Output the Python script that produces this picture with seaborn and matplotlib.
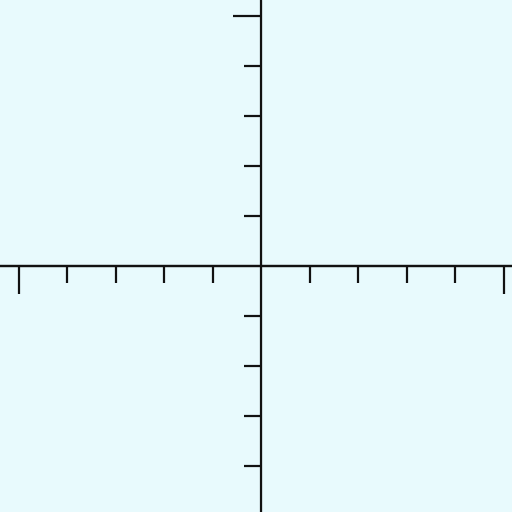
import matplotlib
matplotlib.use("Agg")
import matplotlib.pyplot as plt
import seaborn as sns

# Axis extents and tick positions (data units)
x_limits = [-5.39, 5.17]
y_limits = [-4.91, 5.32]
x_major_ticks = [-5, 5]
x_minor_ticks = [-4, -3, -2, -1, 1, 2, 3, 4]
y_major_ticks = [5]
y_minor_ticks = [4, 3, 2, 1, -1, -2, -3, -4]

sns.set_theme(style="white")
plt.rcParams['font.family'] = ['DejaVu Sans']

fig = plt.figure(figsize=(5.12, 5.12), dpi=100, facecolor='#e8fafd')
ax = fig.add_axes([0, 0, 1, 1])
ax.set_facecolor('#e8fafd')

# Axis lines through the origin
sns.lineplot(x=x_limits, y=[0, 0], color='#111111', linewidth=1.6, ax=ax)
sns.lineplot(x=[0, 0], y=y_limits, color='#111111', linewidth=1.6, ax=ax,
             sort=False)

for side in ['top', 'right']:
    ax.spines[side].set_visible(False)
ax.spines['bottom'].set_position('zero')
ax.spines['left'].set_position('zero')
ax.spines['bottom'].set_color('#111111')
ax.spines['left'].set_color('#111111')
ax.spines['bottom'].set_linewidth(1.6)
ax.spines['left'].set_linewidth(1.6)

ax.set_xlim(x_limits)
ax.set_ylim(y_limits)
ax.set_xticks(x_major_ticks)
ax.set_xticks(x_minor_ticks, minor=True)
ax.set_yticks(y_major_ticks)
ax.set_yticks(y_minor_ticks, minor=True)
ax.set_xticklabels([])
ax.set_yticklabels([])

ax.tick_params(axis='both', which='major', direction='out', length=20,
               width=1.6, color='#111111', bottom=True, left=True)
ax.tick_params(axis='both', which='minor', direction='out', length=12.5,
               width=1.6, color='#111111', bottom=True, left=True)

fig.savefig('out.png', dpi=100, facecolor=fig.get_facecolor())
